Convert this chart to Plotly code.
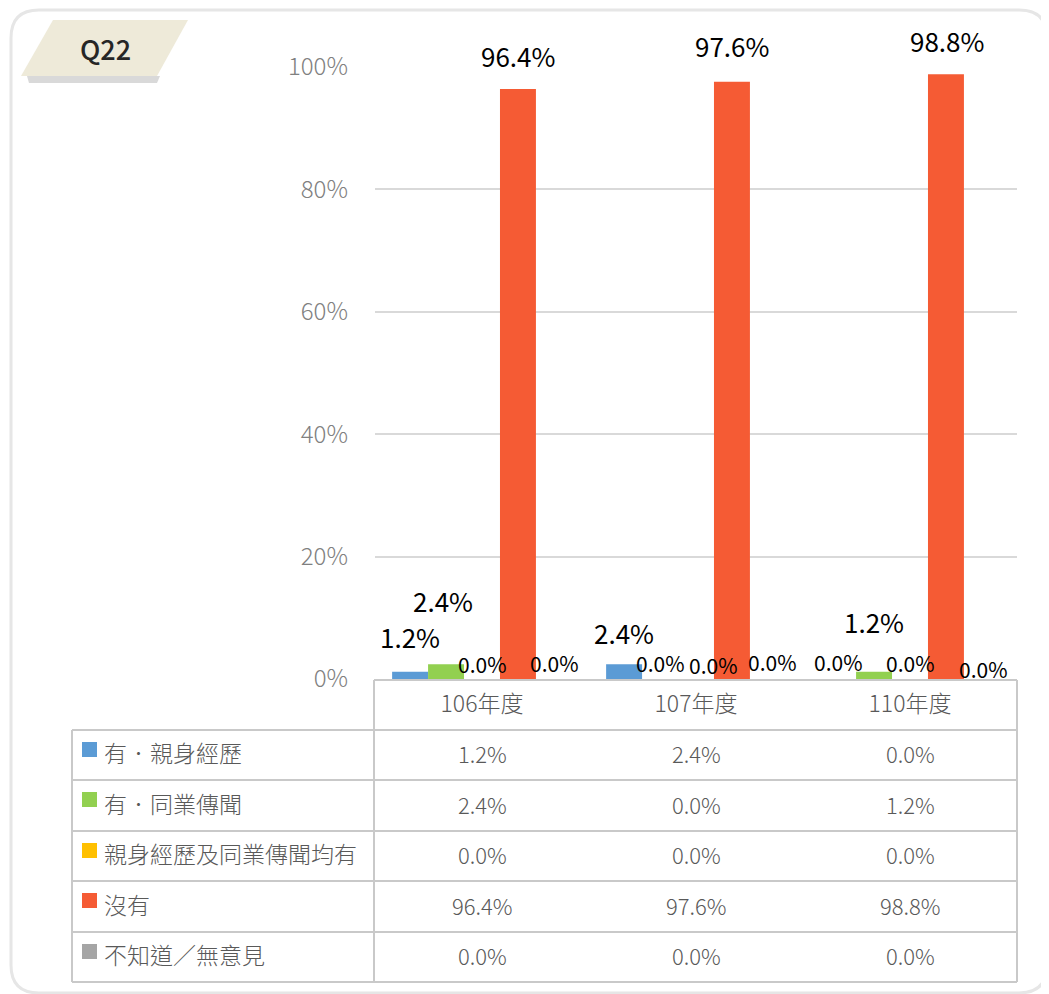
import plotly.graph_objects as go

# ---------------- data ----------------
categories = ["106年度", "107年度", "110年度"]
series_names = ["有．親身經歷", "有．同業傳聞", "親身經歷及同業傳聞均有", "沒有", "不知道／無意見"]
v_personal = [1.2, 2.4, 0.0]
v_hearsay = [2.4, 0.0, 1.2]
v_both = [0.0, 0.0, 0.0]
v_none = [96.4, 97.6, 98.8]
v_unknown = [0.0, 0.0, 0.0]
y_ticks = [0, 20, 40, 60, 80, 100]
title_tag = "Q22"

series_values = [v_personal, v_hearsay, v_both, v_none, v_unknown]

# ---------------- style ----------------
colors = ["#5B9BD5", "#92D050", "#FFC000", "#F55B34", "#A5A5A5"]
W, H = 1049, 994
OFF = 8  # page body margin
FONT = "Noto Sans CJK TC"
GRID = "#D9D9D9"
TABLE_LINE = "#C9C9C9"
TEXT_GRAY = "#595959"
LIGHT = 300
BARGAP = 0.16
# label offsets (pixels) per series (rows) x category (cols): up-shift and right-shift
label_dy = [[35, 32, 17], [64, 16, 50], [15, 14, 16], [34, 36, 34], [16, 17, 10]]
label_dx = [[0, 0, 0], [-3, 0, 0], [0, 17, 0], [0, 0, 1], [1, 5, 2]]

def px(x):
    return (x - OFF) / W

def py(y):
    return 1 - (y - OFF) / H

plot_left, plot_right = 375, 1017
plot_top, plot_bottom = 67, 679

fig = go.Figure()
for name, vals, col in zip(series_names, series_values, colors):
    fig.add_trace(go.Bar(
        x=list(range(len(categories))), y=vals, name=name,
        marker=dict(color=col, line=dict(width=0)),
        hoverinfo="skip", showlegend=False,
    ))

shapes = []
annotations = []

# outer rounded frame
x0, y0, x1, y1, r = 11, 10, 1047, 993, 28
path = (f"M {px(x0+r)} {py(y0)} L {px(x1-r)} {py(y0)} Q {px(x1)} {py(y0)} {px(x1)} {py(y0+r)} "
        f"L {px(x1)} {py(y1-r)} Q {px(x1)} {py(y1)} {px(x1-r)} {py(y1)} "
        f"L {px(x0+r)} {py(y1)} Q {px(x0)} {py(y1)} {px(x0)} {py(y1-r)} "
        f"L {px(x0)} {py(y0+r)} Q {px(x0)} {py(y0)} {px(x0+r)} {py(y0)} Z")
shapes.append(dict(type="path", xref="paper", yref="paper", path=path,
                   line=dict(color="#E6E6E6", width=3), fillcolor="rgba(0,0,0,0)", layer="below"))

# Q22 tag: shadow and parallelogram
def poly(pts):
    return "M " + " L ".join(f"{px(a)} {py(b)}" for a, b in pts) + " Z"

shapes.append(dict(type="path", xref="paper", yref="paper",
                   path=poly([(27, 76), (160, 76), (157, 83), (29, 83)]),
                   line=dict(width=0), fillcolor="#D9D9D9", layer="below"))
shapes.append(dict(type="path", xref="paper", yref="paper",
                   path=poly([(53, 20), (188, 20), (157, 76), (21, 76)]),
                   line=dict(width=0), fillcolor="#EEEAD9", layer="below"))
annotations.append(dict(xref="paper", yref="paper", x=px(105), y=py(49), text=title_tag,
                        showarrow=False, xanchor="center", yanchor="middle",
                        font=dict(family=FONT, size=27, color="#262626", weight=500)))

# table lines
def hline(y, xa, xb):
    shapes.append(dict(type="line", xref="paper", yref="paper", x0=px(xa), x1=px(xb),
                       y0=py(y), y1=py(y), line=dict(color=TABLE_LINE, width=2)))

def vline(x, ya, yb):
    shapes.append(dict(type="line", xref="paper", yref="paper", x0=px(x), x1=px(x),
                       y0=py(ya), y1=py(yb), line=dict(color=TABLE_LINE, width=2)))

row_edges = [730, 780, 831, 881, 932, 982]
hline(680, 374, 1017)
for ye in row_edges:
    hline(ye, 72, 1017)
vline(374, 680, 982)
vline(72, 730, 982)
vline(1017, 680, 982)

# table rows
for k, (name, vals, col) in enumerate(zip(series_names, series_values, colors)):
    top = row_edges[k]
    bottom = row_edges[k + 1]
    mid = (top + bottom) / 2
    shapes.append(dict(type="rect", xref="paper", yref="paper", x0=px(82), x1=px(97),
                       y0=py(top + 12), y1=py(top + 27), line=dict(width=0), fillcolor=col))
    annotations.append(dict(xref="paper", yref="paper", x=px(102), y=py(mid - 3), text=name,
                            showarrow=False, xanchor="left", yanchor="middle",
                            font=dict(family=FONT, size=23, color=TEXT_GRAY, weight=LIGHT)))
    for i, v in enumerate(vals):
        annotations.append(dict(xref="x", yref="paper", x=i, y=py(mid - 2), text=f"{v:.1f}%",
                                showarrow=False, xanchor="center", yanchor="middle",
                                font=dict(family=FONT, size=22, color=TEXT_GRAY, weight=LIGHT)))

# bar data labels
n = len(series_values)
bw = (1 - BARGAP) / n
for j, vals in enumerate(series_values):
    for i, v in enumerate(vals):
        big = v > 0
        annotations.append(dict(
            xref="x", yref="y", x=i + (j - (n - 1) / 2) * bw, y=v,
            text=f"{v:.1f}%", showarrow=False, xanchor="center", yanchor="middle",
            xshift=label_dx[j][i], yshift=label_dy[j][i],
            font=dict(family=FONT, size=26 if big else 21, color="#000000")))

fig.update_layout(
    width=W, height=H,
    margin=dict(l=0, r=0, t=0, b=0, pad=0, autoexpand=False),
    paper_bgcolor="white", plot_bgcolor="white",
    barmode="group", bargap=BARGAP, bargroupgap=0,
    shapes=shapes, annotations=annotations,
    xaxis=dict(domain=[px(plot_left), px(plot_right)], range=[-0.5, 2.5],
               tickvals=list(range(len(categories))), ticktext=categories,
               showgrid=False, zeroline=False, showline=False, ticks="",
               tickfont=dict(family=FONT, size=23, color=TEXT_GRAY, weight=LIGHT),
               ticklabelstandoff=9, fixedrange=True, automargin=False),
    yaxis=dict(domain=[py(plot_bottom), py(plot_top)], range=[0, 100],
               tickvals=y_ticks, ticktext=[f"{t}%" for t in y_ticks],
               showgrid=True, gridcolor=GRID, gridwidth=2, zeroline=False, showline=False,
               ticks="", tickfont=dict(family=FONT, size=24, color="#808080", weight=LIGHT),
               ticklabelstandoff=26, fixedrange=True, automargin=False),
)

fig.write_html("out.html")
